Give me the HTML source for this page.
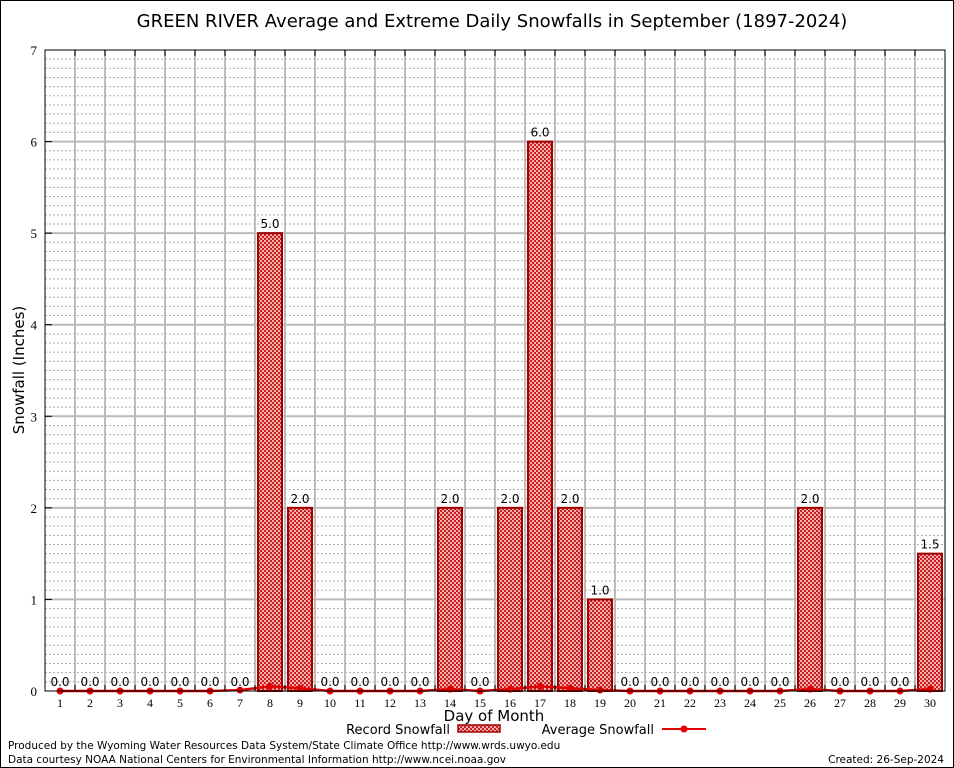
<!DOCTYPE html>
<html><head><meta charset="utf-8"><style>
body{margin:0;background:#fff;}
svg{display:block;font-family:"DejaVu Sans","Liberation Sans",sans-serif;}
</style></head><body>
<svg id="c" width="954" height="768" viewBox="0 0 954 768">
<defs>
<pattern id="chk" x="0" y="0" width="4" height="4" patternUnits="userSpaceOnUse">
<rect width="4" height="4" fill="#cc2020"/><rect x="0" y="0" width="2" height="2" fill="#f0b0b0"/><rect x="2" y="2" width="2" height="2" fill="#f0b0b0"/>
</pattern>
</defs>
<rect x="0.5" y="0.5" width="953" height="767" fill="#fff" stroke="#000"/>
<text x="492" y="27" font-size="18" text-anchor="middle">GREEN RIVER Average and Extreme Daily Snowfalls in September (1897-2024)</text>
<g id="grid"></g>
<g id="bars"></g>
<g id="avg"></g>
<g id="axes"></g>
<text x="24" y="370" font-size="15" text-anchor="middle" transform="rotate(-90 24 370)">Snowfall (Inches)</text>
<text x="494" y="721" font-size="15" text-anchor="middle">Day of Month</text>
<g>
<text x="450" y="734" font-size="13" text-anchor="end">Record Snowfall</text>
<rect x="458" y="725" width="42" height="7" fill="url(#chk)" stroke="#a00000" stroke-width="1.5"/>
</g>
<g>
<text x="654" y="734" font-size="13" text-anchor="end">Average Snowfall</text>
<line x1="662" y1="729" x2="706" y2="729" stroke="#e00000" stroke-width="2"/>
<circle cx="684" cy="729" r="3.5" fill="#e00000"/>
</g>
<text x="8" y="749" font-size="10.5">Produced by the Wyoming Water Resources Data System/State Climate Office http://www.wrds.uwyo.edu</text>
<text x="8" y="763" font-size="10.5">Data courtesy NOAA National Centers for Environmental Information http://www.ncei.noaa.gov</text>
<text x="944" y="763" font-size="10.5" text-anchor="end">Created: 26-Sep-2024</text>
</svg>
<script>
const days=[1,2,3,4,5,6,7,8,9,10,11,12,13,14,15,16,17,18,19,20,21,22,23,24,25,26,27,28,29,30];
const records=[0,0,0,0,0,0,0,5,2,0,0,0,0,2,0,2,6,2,1,0,0,0,0,0,0,2,0,0,0,1.5];
const averages=[0,0,0,0,0,0,0.01,0.05,0.03,0,0,0,0,0.02,0,0.02,0.05,0.03,0.01,0,0,0,0,0,0,0.02,0,0,0,0.02];
const yTicks=[0,1,2,3,4,5,6,7];
const NS='http://www.w3.org/2000/svg';
const L=45,R=945,T=50,B=691,yMax=7;
const xs=d=>L+(d-0.5)*(R-L)/days.length;
const ys=v=>B-v*(B-T)/yMax;
function mk(p,tag,a){const e=document.createElementNS(NS,tag);for(const k in a)e.setAttribute(k,a[k]);p.appendChild(e);return e;}
const grid=document.getElementById('grid'),bars=document.getElementById('bars'),avg=document.getElementById('avg'),axes=document.getElementById('axes');
for(let i=1;i<yMax*10;i++){if(i%10==0)continue;const l=mk(grid,'line',{x1:L,x2:R,y1:ys(i/10),y2:ys(i/10),stroke:'#aaa','stroke-width':1,'stroke-dasharray':'2,2'});

}
for(let k=1;k<days.length;k++){const x=L+k*(R-L)/days.length;const l=mk(grid,'line',{x1:x,x2:x,y1:T,y2:B,stroke:'#bbb','stroke-width':2});


mk(axes,'line',{x1:x,x2:x,y1:T,y2:T+6,stroke:'#000'});mk(axes,'line',{x1:x,x2:x,y1:B,y2:B-6,stroke:'#000'});}
yTicks.forEach(v=>{if(v>0&&v<yMax){const l=mk(grid,'line',{x1:L,x2:R,y1:ys(v),y2:ys(v),stroke:'#bbb','stroke-width':2});

}
const t=mk(axes,'text',{x:37,y:ys(v)+5,'font-size':13,'text-anchor':'end','font-family':'Liberation Serif, serif'});t.textContent=v;


mk(axes,'line',{x1:L,x2:L+7,y1:ys(v),y2:ys(v),stroke:'#000'});});
days.forEach((d,i)=>{const v=records[i],x=xs(d);
if(v>0){const r=mk(bars,'rect',{x:x-12,y:ys(v),width:24,height:B-ys(v),fill:'url(#chk)',stroke:'#a00000','stroke-width':2});

}
const t=mk(bars,'text',{x:x,y:ys(v)-5,'font-size':12,'text-anchor':'middle'});t.textContent=v.toFixed(1);


const tl=mk(axes,'text',{x:x,y:B+16,'font-size':12,'text-anchor':'middle','font-family':'Liberation Serif, serif'});tl.textContent=d;

});
const pl=mk(avg,'polyline',{points:days.map((d,i)=>xs(d)+','+ys(averages[i])).join(' '),fill:'none',stroke:'#e00000','stroke-width':2.5});


days.forEach((d,i)=>{const c=mk(avg,'circle',{cx:xs(d),cy:ys(averages[i]),r:3.5,fill:'#e00000'});

});
const bx=mk(axes,'rect',{x:L,y:T,width:R-L,height:B-T,fill:'none',stroke:'#000','stroke-width':1});


</script>
</body></html>
